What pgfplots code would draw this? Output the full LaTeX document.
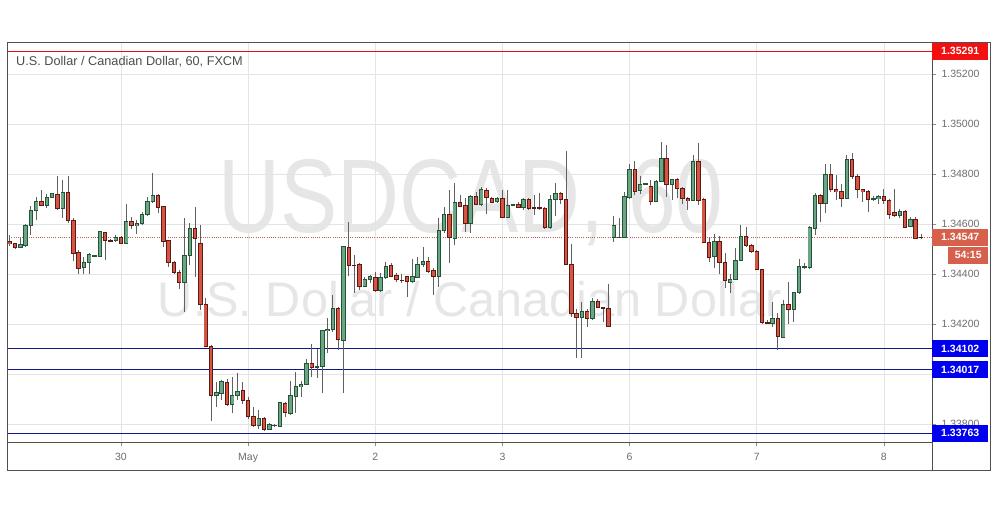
\documentclass[border=0pt]{standalone}
\usepackage{pgfplots}
\pgfplotsset{compat=1.18}
\usepackage{pgfplotstable}
\usepackage{fontspec}
\setmainfont{Liberation Sans}
\definecolor{upfill}{HTML}{6BA583}
\definecolor{upline}{HTML}{225437}
\definecolor{dnfill}{HTML}{D75442}
\definecolor{dnline}{HTML}{5B1A13}
\definecolor{wickc}{HTML}{606060}
\definecolor{framec}{HTML}{505050}
\definecolor{gridc}{HTML}{E4E4E4}
\definecolor{tickc}{HTML}{6E6E6E}
\definecolor{wm}{HTML}{E6E6E6}
\definecolor{resline}{HTML}{E01010}
\definecolor{resbox}{HTML}{F21010}
\definecolor{supline}{HTML}{15158C}
\definecolor{supbox}{HTML}{0000EE}
\definecolor{curbox}{HTML}{D6604C}
\definecolor{curline}{HTML}{C0604E}
\definecolor{titlec}{HTML}{4D4D4D}

\pgfplotstableread{
j o h l c
5 1.34507 1.34543 1.34503 1.34519
6 1.34513 1.34603 1.34509 1.34596
7 1.34596 1.34672 1.34556 1.34656
8 1.34656 1.34709 1.34616 1.34692
10 1.34673 1.34723 1.34664 1.34708
11 1.34708 1.34724 1.34704 1.34720
13 1.34664 1.34779 1.34623 1.34724
17 1.34425 1.34469 1.34400 1.34448
18 1.34448 1.34485 1.34400 1.34476
19 1.34473 1.34476 1.34469 1.34474
20 1.34472 1.34569 1.34469 1.34568
23 1.34536 1.34556 1.34529 1.34548
25 1.34525 1.34683 1.34523 1.34609
27 1.34593 1.34616 1.34560 1.34604
28 1.34604 1.34649 1.34596 1.34640
29 1.34640 1.34709 1.34632 1.34692
30 1.34692 1.34803 1.34683 1.34716
36 1.34367 1.34623 1.34249 1.34476
37 1.34476 1.34605 1.34436 1.34583
42 1.33916 1.33969 1.33869 1.33925
43 1.33925 1.33976 1.33896 1.33969
45 1.33880 1.33989 1.33844 1.33916
46 1.33916 1.34005 1.33896 1.33933
50 1.33796 1.33859 1.33783 1.33824
52 1.33779 1.33803 1.33776 1.33796
53 1.33796 1.33800 1.33788 1.33797
54 1.33792 1.33889 1.33789 1.33884
56 1.33845 1.33973 1.33836 1.33916
57 1.33912 1.34009 1.33844 1.33949
58 1.33949 1.33973 1.33909 1.33960
59 1.33960 1.34059 1.33956 1.34043
61 1.34029 1.34100 1.33985 1.34030
62 1.34030 1.34176 1.33925 1.34176
63 1.34176 1.34224 1.34085 1.34180
64 1.34180 1.34316 1.34169 1.34263
66 1.34136 1.34509 1.33925 1.34509
70 1.34352 1.34389 1.34347 1.34379
71 1.34379 1.34396 1.34365 1.34389
73 1.34336 1.34405 1.34329 1.34387
74 1.34387 1.34449 1.34383 1.34432
79 1.34371 1.34463 1.34365 1.34389
80 1.34389 1.34469 1.34387 1.34439
81 1.34439 1.34509 1.34429 1.34449
84 1.34389 1.34624 1.34349 1.34576
85 1.34576 1.34669 1.34563 1.34639
87 1.34545 1.34764 1.34516 1.34687
90 1.34603 1.34716 1.34564 1.34709
92 1.34680 1.34747 1.34672 1.34739
95 1.34690 1.34709 1.34685 1.34703
97 1.34627 1.34736 1.34623 1.34673
98 1.34676 1.34680 1.34672 1.34677
100 1.34667 1.34703 1.34656 1.34699
105 1.34587 1.34716 1.34583 1.34699
106 1.34699 1.34763 1.34632 1.34723
111 1.34227 1.34289 1.34065 1.34249
113 1.34223 1.34303 1.34216 1.34289
117 1.34545 1.34632 1.34529 1.34596
118 1.34548 1.34627 1.34547 1.34549
119 1.34548 1.34729 1.34547 1.34709
120 1.34709 1.34840 1.34703 1.34819
122 1.34733 1.34792 1.34723 1.34759
123 1.34759 1.34763 1.34756 1.34760
125 1.34693 1.34776 1.34689 1.34769
126 1.34769 1.34929 1.34767 1.34863
128 1.34760 1.34783 1.34696 1.34779
132 1.34696 1.34876 1.34693 1.34849
136 1.34469 1.34560 1.34427 1.34529
139 1.34369 1.34403 1.34325 1.34379
140 1.34379 1.34503 1.34376 1.34456
141 1.34456 1.34599 1.34453 1.34549
147 1.34205 1.34289 1.34189 1.34223
149 1.34149 1.34296 1.34149 1.34280
151 1.34259 1.34329 1.34209 1.34327
152 1.34327 1.34463 1.34323 1.34432
153 1.34429 1.34444 1.34420 1.34430
154 1.34427 1.34592 1.34423 1.34587
155 1.34583 1.34723 1.34556 1.34716
157 1.34683 1.34843 1.34645 1.34800
161 1.34703 1.34876 1.34699 1.34856
166 1.34702 1.34712 1.34692 1.34703
167 1.34703 1.34716 1.34683 1.34712
171 1.34636 1.34663 1.34623 1.34649
173 1.34589 1.34629 1.34587 1.34619
}\uptable

\pgfplotstableread{
j o h l c
3 1.34532 1.34556 1.34512 1.34523
4 1.34523 1.34525 1.34501 1.34507
9 1.34692 1.34736 1.34672 1.34673
12 1.34720 1.34792 1.34656 1.34664
14 1.34724 1.34792 1.34605 1.34616
15 1.34616 1.34624 1.34452 1.34483
16 1.34485 1.34496 1.34400 1.34425
21 1.34568 1.34569 1.34456 1.34533
22 1.34533 1.34540 1.34529 1.34532
24 1.34545 1.34552 1.34523 1.34525
26 1.34609 1.34629 1.34583 1.34593
31 1.34716 1.34723 1.34643 1.34668
32 1.34668 1.34672 1.34509 1.34532
33 1.34532 1.34536 1.34429 1.34448
34 1.34448 1.34453 1.34400 1.34407
35 1.34407 1.34416 1.34343 1.34367
38 1.34583 1.34672 1.34392 1.34543
39 1.34523 1.34596 1.34256 1.34279
40 1.34279 1.34303 1.34109 1.34112
41 1.34112 1.34116 1.33812 1.33916
44 1.33969 1.33979 1.33872 1.33880
47 1.33933 1.33969 1.33883 1.33896
48 1.33896 1.33909 1.33823 1.33829
49 1.33829 1.33869 1.33789 1.33796
51 1.33824 1.33829 1.33773 1.33780
55 1.33884 1.33889 1.33829 1.33849
60 1.34043 1.34120 1.33989 1.34029
65 1.34263 1.34269 1.34099 1.34136
67 1.34509 1.34609 1.34392 1.34436
68 1.34436 1.34476 1.34323 1.34435
69 1.34439 1.34443 1.34336 1.34352
72 1.34387 1.34409 1.34329 1.34336
75 1.34432 1.34443 1.34387 1.34392
76 1.34396 1.34403 1.34369 1.34379
77 1.34376 1.34403 1.34365 1.34375
78 1.34389 1.34392 1.34309 1.34371
82 1.34449 1.34469 1.34403 1.34413
83 1.34413 1.34423 1.34316 1.34389
86 1.34639 1.34736 1.34443 1.34545
88 1.34687 1.34716 1.34669 1.34673
89 1.34673 1.34703 1.34569 1.34603
91 1.34709 1.34729 1.34676 1.34679
93 1.34736 1.34744 1.34643 1.34709
94 1.34704 1.34709 1.34683 1.34687
96 1.34703 1.34736 1.34623 1.34627
99 1.34680 1.34689 1.34663 1.34667
101 1.34699 1.34703 1.34656 1.34663
102 1.34667 1.34716 1.34636 1.34666
103 1.34666 1.34723 1.34656 1.34665
104 1.34663 1.34669 1.34583 1.34587
107 1.34723 1.34729 1.34683 1.34699
108 1.34699 1.34893 1.34436 1.34439
109 1.34439 1.34523 1.34229 1.34243
110 1.34243 1.34263 1.34065 1.34227
112 1.34249 1.34263 1.34189 1.34223
114 1.34289 1.34303 1.34263 1.34267
115 1.34267 1.34269 1.34209 1.34266
116 1.34263 1.34360 1.34189 1.34193
121 1.34819 1.34853 1.34716 1.34733
124 1.34752 1.34776 1.34676 1.34693
127 1.34863 1.34916 1.34709 1.34760
129 1.34779 1.34783 1.34703 1.34743
130 1.34743 1.34749 1.34683 1.34703
131 1.34703 1.34709 1.34656 1.34696
133 1.34849 1.34923 1.34676 1.34696
134 1.34696 1.34703 1.34523 1.34527
135 1.34527 1.34549 1.34449 1.34469
137 1.34529 1.34552 1.34400 1.34447
138 1.34447 1.34485 1.34343 1.34376
142 1.34549 1.34589 1.34509 1.34516
143 1.34516 1.34523 1.34483 1.34493
144 1.34489 1.34496 1.34416 1.34419
145 1.34419 1.34423 1.34203 1.34207
146 1.34207 1.34216 1.34200 1.34206
148 1.34223 1.34244 1.34099 1.34149
150 1.34280 1.34369 1.34203 1.34259
156 1.34716 1.34723 1.34609 1.34683
158 1.34800 1.34843 1.34729 1.34739
159 1.34739 1.34796 1.34696 1.34729
160 1.34729 1.34763 1.34669 1.34703
162 1.34856 1.34885 1.34783 1.34792
163 1.34792 1.34803 1.34703 1.34739
164 1.34739 1.34743 1.34689 1.34729
165 1.34729 1.34736 1.34649 1.34699
168 1.34712 1.34743 1.34683 1.34693
169 1.34693 1.34703 1.34619 1.34640
170 1.34645 1.34743 1.34629 1.34636
172 1.34649 1.34656 1.34583 1.34589
174 1.34619 1.34629 1.34540 1.34543
175 1.34548 1.34563 1.34540 1.34547
}\downtable

\pgfplotsset{
  wick/.style={draw=none, mark=none, forget plot,
    error bars/.cd, y dir=both, y explicit, error mark=none,
    error bar style={line width=0.9pt, draw=wickc, solid}},
  bodyout/.style={draw=none, mark=none, forget plot,
    error bars/.cd, y dir=both, y explicit, error mark=none,
    error bar style={line width=4.4pt, draw=#1, solid}},
  bodyin/.style={draw=none, mark=none, forget plot,
    error bars/.cd, y dir=both, y explicit, error mark=none,
    error bar style={line width=2.6pt, draw=#1, solid}},
}

\begin{document}
\begin{tikzpicture}[x=1pt,y=1pt]
\useasboundingbox (0,0) rectangle (995,507);
\fill[white] (0,0) rectangle (995,507);
% watermark
\node[anchor=base, inner sep=0, text=wm] at (471,274.3) {\resizebox{505pt}{73pt}{USDCAD, 60}};
\node[anchor=base, inner sep=0, text=wm] at (470,190.3) {\resizebox{624pt}{!}{U.S. Dollar / Canadian Dollar}};

\begin{axis}[
  at={(7pt,65pt)}, anchor=south west,
  scale only axis, width=925pt, height=400pt,
  xmin=2.482, xmax=177.08, ymin=1.33728, ymax=1.35328,
  axis line style={draw=framec, line width=0.8pt},
  xtick={24,48,72,96,120,144,168},
  xticklabels={30,May,2,3,6,7,8},
  ytick={1.338,1.340,1.342,1.344,1.346,1.348,1.350,1.352},
  yticklabels={1.33800,,1.34200,1.34400,1.34600,1.34800,1.35000,1.35200},
  scaled y ticks=false,
  ytick pos=right, yticklabel pos=right, xtick pos=bottom,
  tick align=outside, major tick length=4pt,
  tick style={draw=black!45, line width=0.7pt},
  grid=major, major grid style={draw=gridc, line width=0.8pt},
  ticklabel style={font=\fontsize{10.5}{12}\selectfont, text=tickc},
  yticklabel style={xshift=2pt},
  xticklabel style={yshift=-4pt},
]
% horizontal levels
\addplot[color=resline, line width=1pt, forget plot] coordinates {(2.482,1.35291) (177.08,1.35291)};
\addplot[color=supline, line width=1pt, forget plot] coordinates {(2.482,1.34102) (177.08,1.34102)};
\addplot[color=supline, line width=1pt, forget plot] coordinates {(2.482,1.34017) (177.08,1.34017)};
\addplot[color=supline, line width=1pt, forget plot] coordinates {(2.482,1.33763) (177.08,1.33763)};
\addplot[color=curline, line width=0.8pt, dash pattern=on 1pt off 1.2pt, forget plot] coordinates {(2.482,1.34547) (177.08,1.34547)};
% wicks
\addplot[wick] table[x=j, y expr={(\thisrow{h}+\thisrow{l})/2}, y error expr={(\thisrow{h}-\thisrow{l})/2}] {\uptable};
\addplot[wick] table[x=j, y expr={(\thisrow{h}+\thisrow{l})/2}, y error expr={(\thisrow{h}-\thisrow{l})/2}] {\downtable};
% bodies
\addplot[bodyout=upline] table[x=j, y expr={(\thisrow{o}+\thisrow{c})/2}, y error expr={abs(\thisrow{c}-\thisrow{o})/2+0.000024}] {\uptable};
\addplot[bodyin=upfill] table[x=j, y expr={(\thisrow{o}+\thisrow{c})/2}, y error expr={max(abs(\thisrow{c}-\thisrow{o})/2-0.000016,0)}] {\uptable};
\addplot[bodyout=dnline] table[x=j, y expr={(\thisrow{o}+\thisrow{c})/2}, y error expr={abs(\thisrow{c}-\thisrow{o})/2+0.000024}] {\downtable};
\addplot[bodyin=dnfill] table[x=j, y expr={(\thisrow{o}+\thisrow{c})/2}, y error expr={max(abs(\thisrow{c}-\thisrow{o})/2-0.000016,0)}] {\downtable};
\coordinate (p1) at (axis cs:177.08,1.35291);
\coordinate (p2) at (axis cs:177.08,1.34547);
\coordinate (p3) at (axis cs:177.08,1.34102);
\coordinate (p4) at (axis cs:177.08,1.34017);
\coordinate (p5) at (axis cs:177.08,1.33763);
\end{axis}

% outer frame
\draw[framec, line width=0.8pt] (7,37) rectangle (990,465);
\draw[framec, line width=0.8pt] (932,37) -- (932,465);

% price tags
\tikzset{tag/.style={anchor=west, inner sep=0, minimum width=56pt, minimum height=17pt, text=white, font=\fontsize{10.5}{12}\selectfont\bfseries}}
\node[tag, fill=resbox] at (p1) {1.35291};
\node[tag, fill=curbox] (cur) at (p2) {1.34547};
\node[tag, fill=supbox] at (p3) {1.34102};
\node[tag, fill=supbox] at (p4) {1.34017};
\node[tag, fill=supbox] at (p5) {1.33763};
\node[anchor=north east, inner sep=0, minimum width=40pt, minimum height=17.5pt, fill=curbox, text=white, font=\fontsize{10.5}{12}\selectfont\bfseries] at ([yshift=-0.5pt]cur.south east) {54:15};

% title
\node[anchor=base west, inner sep=0, text=titlec, font=\fontsize{12.7}{14}\selectfont] at (16,441) {U.S. Dollar / Canadian Dollar, 60, FXCM};
\end{tikzpicture}
\end{document}
